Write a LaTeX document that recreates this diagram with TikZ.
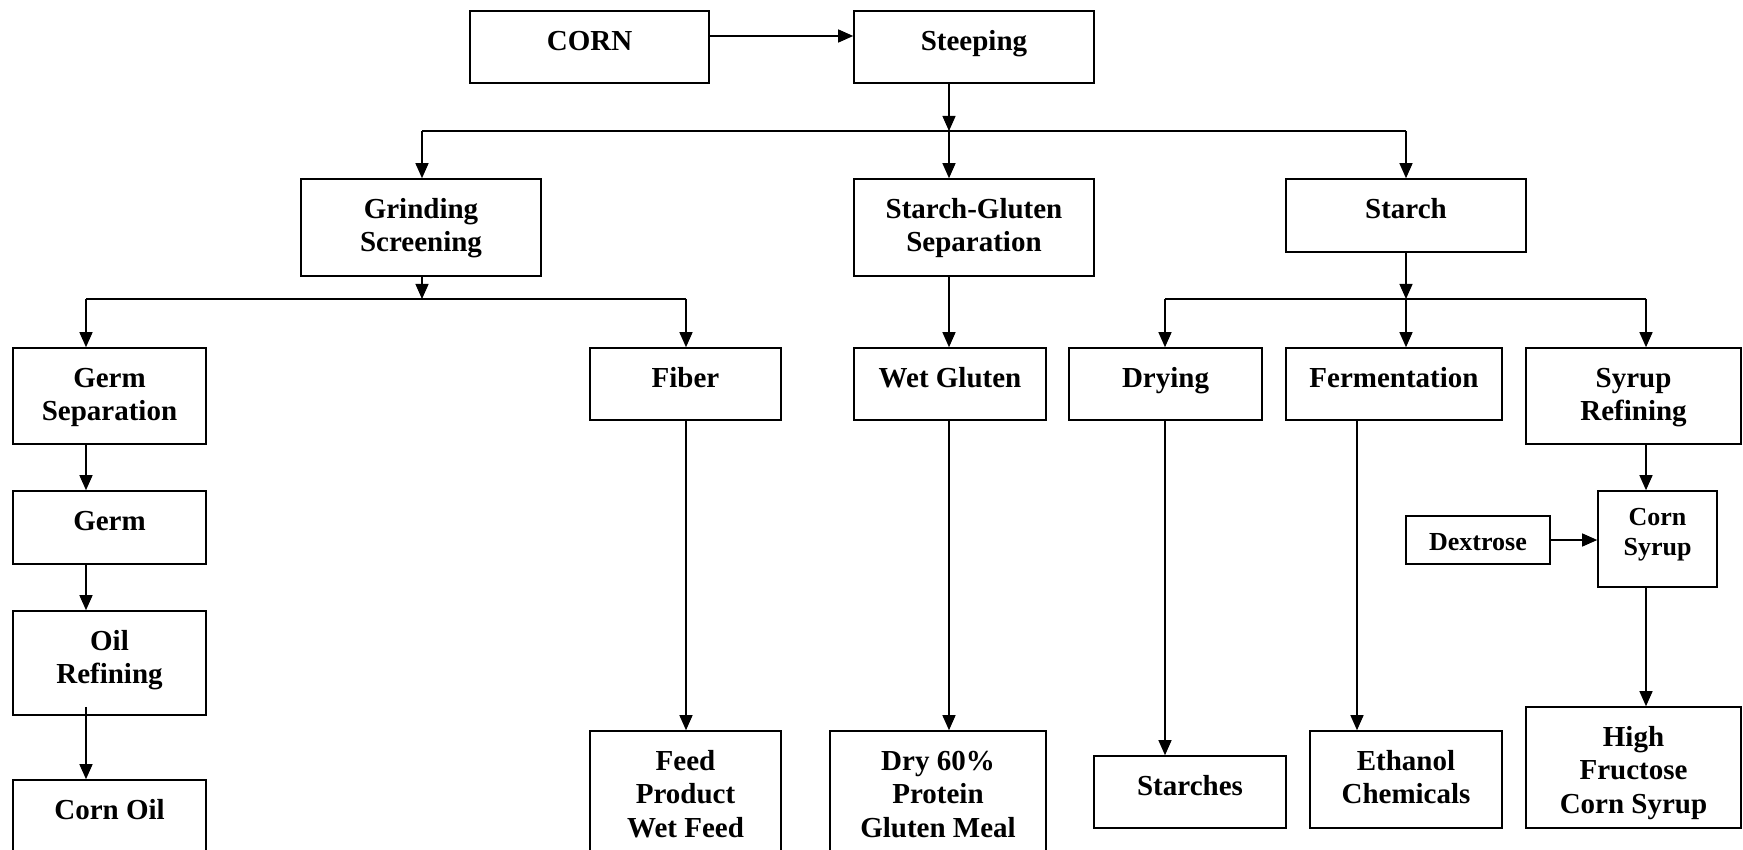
\documentclass[tikz,border=0pt]{standalone}
\usepackage{fontspec}
\setmainfont{Liberation Serif}
\usetikzlibrary{arrows.meta}
\tikzset{
 boxst/.style={draw, line width=1.6pt, rectangle, inner sep=0pt},
 arr/.style={line width=1.3pt, -{Triangle[length=15pt,width=13pt]}},
 ln/.style={line width=1.3pt},
 lbl/.style={anchor=base, inner sep=0pt, font=\bfseries\fontsize{29}{33.5}\selectfont},
 lbls/.style={anchor=base, inner sep=0pt, font=\bfseries\fontsize{26}{30.5}\selectfont},
}
\newcommand\mybox[8]{%
 \node[boxst, minimum width={#4-#2}, minimum height={#5-#3}] (#1) at ({(#2+#4)/2},{(#3+#5)/2}) {};
 \node[#7] (#1-t) at ([yshift=-#8pt]#1.north) {\begin{tabular}[t]{@{}c@{}}#6\end{tabular}};
}
\begin{document}
\begin{tikzpicture}[x=1pt,y=-1pt]
\useasboundingbox (0,0) rectangle (1743,850);
\clip (0,0) rectangle (1743,850);
\fill[white] (0,0) rectangle (1743,850);
% boxes
\mybox{corn}{470}{11}{709}{83}{CORN}{lbl}{40}
\mybox{steep}{854}{11}{1094}{83}{Steeping}{lbl}{40}
\mybox{grind}{301}{179}{541}{276}{Grinding\\Screening}{lbl}{40}
\mybox{sgsep}{854}{179}{1094}{276}{Starch-Gluten\\Separation}{lbl}{40}
\mybox{starch}{1286}{179}{1526}{252}{Starch}{lbl}{40}
\mybox{germsep}{13}{348}{206}{444}{Germ\\Separation}{lbl}{40}
\mybox{fiber}{590}{348}{781}{420}{Fiber}{lbl}{40}
\mybox{wetg}{854}{348}{1046}{420}{Wet Gluten}{lbl}{40}
\mybox{dry}{1069}{348}{1262}{420}{Drying}{lbl}{40}
\mybox{ferm}{1286}{348}{1502}{420}{Fermentation}{lbl}{40}
\mybox{syref}{1526}{348}{1741}{444}{Syrup\\Refining}{lbl}{40}
\mybox{germ}{13}{491}{206}{564}{Germ}{lbl}{40}
\mybox{oil}{13}{611}{206}{715}{Oil\\Refining}{lbl}{40}
\mybox{cornoil}{13}{780}{206}{856}{Corn Oil}{lbl}{40}
\mybox{feed}{590}{731}{781}{856}{Feed\\Product\\Wet Feed}{lbl}{40}
\mybox{dry60}{830}{731}{1046}{856}{Dry 60\%\\Protein\\Gluten Meal}{lbl}{40}
\mybox{starches}{1094}{756}{1286}{828}{Starches}{lbl}{40}
\mybox{ethanol}{1310}{731}{1502}{828}{Ethanol\\Chemicals}{lbl}{40}
\mybox{hfcs}{1526}{707}{1741}{828}{High\\Fructose\\Corn Syrup}{lbl}{40}
\mybox{csyrup}{1598}{491}{1717}{587}{Corn\\Syrup}{lbls}{35}
\mybox{dex}{1406}{516}{1550}{564}{Dextrose}{lbls}{35}
% bus coordinates
\coordinate (b1) at (949,131);
\coordinate (b1L) at (422,131);
\coordinate (b1R) at (1406,131);
\coordinate (b2) at (422,299);
\coordinate (b2L) at (86,299);
\coordinate (b2R) at (686,299);
\coordinate (b3) at (1406,299);
\coordinate (b3L) at (1165,299);
\coordinate (b3R) at (1646,299);
\coordinate (fx) at (1357,420);
% connectors
\draw[arr] (corn.east |- 0,36) -- (steep.west |- 0,36);
\draw[arr] (steep.south -| b1) -- (b1);
\draw[ln] (b1L) -- (b1R);
\draw[arr] (b1L) -- (b1L |- grind.north);
\draw[arr] (b1) -- (b1 |- sgsep.north);
\draw[arr] (b1R) -- (b1R |- starch.north);
\draw[arr] (grind.south -| b2) -- (b2);
\draw[ln] (b2L) -- (b2R);
\draw[arr] (b2L) -- (b2L |- germsep.north);
\draw[arr] (b2R) -- (b2R |- fiber.north);
\draw[arr] (starch.south -| b3) -- (b3);
\draw[ln] (b3L) -- (b3R);
\draw[arr] (b3L) -- (b3L |- dry.north);
\draw[arr] (b3) -- (b3 |- ferm.north);
\draw[arr] (b3R) -- (b3R |- syref.north);
\draw[arr] (germsep.south -| b2L) -- (germ.north -| b2L);
\draw[arr] (germ.south -| b2L) -- (oil.north -| b2L);
\draw[arr] ([yshift=9pt]oil.south -| b2L) -- (cornoil.north -| b2L);
\draw[arr] (fiber.south -| b2R) -- (feed.north -| b2R);
\draw[arr] (sgsep.south -| b1) -- (wetg.north -| b1);
\draw[arr] (wetg.south -| b1) -- (dry60.north -| b1);
\draw[arr] (dry.south -| b3L) -- (starches.north -| b3L);
\draw[arr] (fx) -- (ethanol.north -| fx);
\draw[arr] (syref.south -| b3R) -- (csyrup.north -| b3R);
\draw[arr] (csyrup.south -| b3R) -- (hfcs.north -| b3R);
\draw[arr] (dex.east) -- (dex.east -| csyrup.west);
\end{tikzpicture}
\end{document}
